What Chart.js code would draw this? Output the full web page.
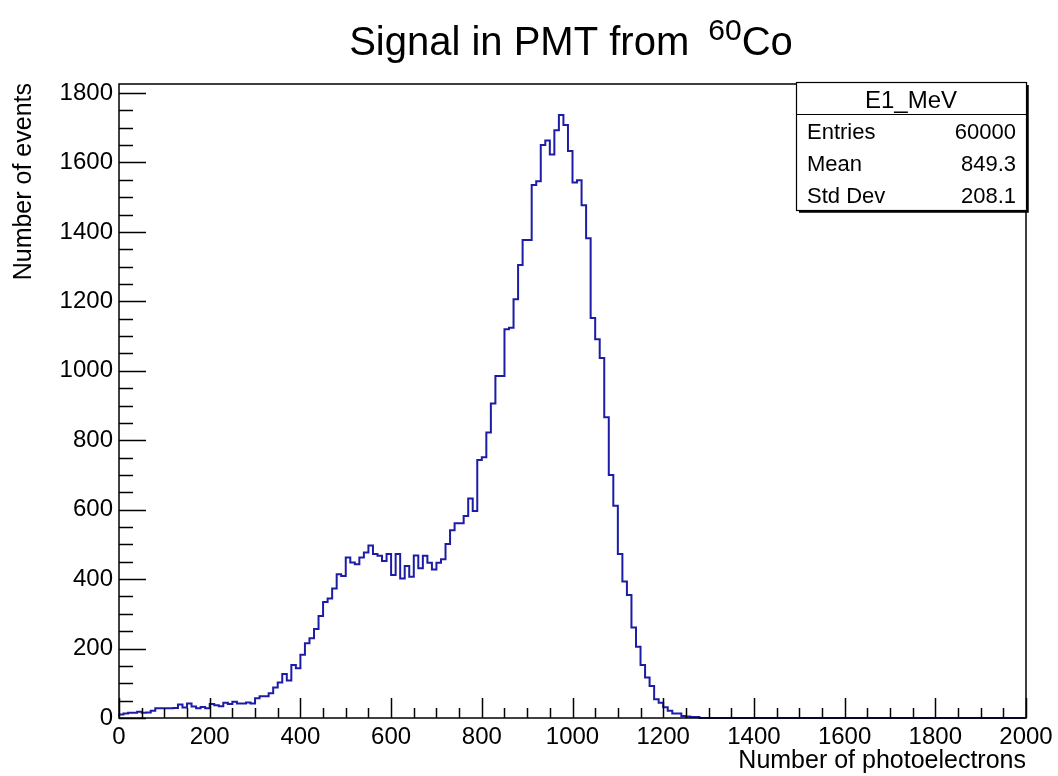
<!DOCTYPE html>
<html>
<head>
<meta charset="utf-8">
<title>Signal in PMT from 60Co</title>
<script src="https://cdn.jsdelivr.net/npm/chart.js@4/dist/chart.umd.min.js"></script>
<style>
  body { margin: 0; background: #fff; }
  #wrap { width: 1058px; height: 776px; }
</style>
</head>
<body>
<div id="wrap"><canvas id="hist" width="1058" height="776"></canvas></div>
<script>
// histogram E1_MeV, 10 photoelectrons per bin, bins from 0 upward (later bins empty)
const binWidth = 10;
const xRange = [0, 2000];
const yRange = [0, 1826];
const counts = [
  11, 10, 13, 15, 15, 18, 15, 16, 21, 28,
  28, 28, 28, 29, 39, 30, 42, 33, 28, 32,
  28, 40, 37, 34, 44, 40, 47, 42, 42, 45,
  42, 57, 63, 63, 71, 88, 102, 127, 108, 153,
  143, 182, 215, 230, 256, 294, 334, 344, 373, 414,
  409, 462, 448, 443, 462, 477, 497, 472, 467, 452,
  472, 412, 472, 402, 438, 407, 468, 431, 467, 447,
  428, 447, 457, 501, 541, 561, 561, 582, 632, 596,
  743, 751, 822, 906, 985, 985, 1120, 1124, 1206, 1305,
  1377, 1377, 1535, 1546, 1650, 1663, 1623, 1693, 1737, 1708,
  1633, 1542, 1549, 1477, 1382, 1152, 1091, 1037, 866, 700,
  611, 472, 393, 354, 261, 205, 153, 117, 92, 54,
  44, 31, 21, 13, 13, 6, 4, 3, 3, 0
];
const xTickLabels = ['0', '200', '400', '600', '800', '1000', '1200', '1400', '1600', '1800', '2000'];
const yTickLabels = ['0', '200', '400', '600', '800', '1000', '1200', '1400', '1600', '1800'];
const statNames = ['Entries', 'Mean', 'Std Dev'];
const statValues = ['60000', '849.3', '208.1'];

const FONT = '"Liberation Sans", Arial, Helvetica, sans-serif';

// step outline: one point per bin low edge, closed with the empty tail at zero
const points = counts.map((c, i) => ({ x: xRange[0] + i * binWidth, y: c }));
points.push({ x: xRange[1], y: 0 });

// ROOT style frame, inward ticks, titles and stats box
const rootFrame = {
  id: 'rootFrame',
  afterDraw(chart) {
    const ctx = chart.ctx;
    const a = chart.chartArea;
    const xs = chart.scales.x;
    const ys = chart.scales.y;
    ctx.save();
    ctx.strokeStyle = '#000';
    ctx.fillStyle = '#000';
    ctx.lineWidth = 1.5;
    ctx.strokeRect(a.left, a.top, a.right - a.left, a.bottom - a.top);

    // x ticks
    for (let v = xRange[0]; v <= xRange[1]; v += 50) {
      const px = Math.round(xs.getPixelForValue(v)) + 0.5;
      const len = v % 200 === 0 ? 20 : 10;
      ctx.beginPath();
      ctx.moveTo(px, a.bottom);
      ctx.lineTo(px, a.bottom - len);
      ctx.stroke();
    }
    // y ticks
    for (let v = 0; v <= 1800; v += 50) {
      const py = Math.round(ys.getPixelForValue(v)) + 0.5;
      const len = v % 200 === 0 ? 27 : 14;
      ctx.beginPath();
      ctx.moveTo(a.left, py);
      ctx.lineTo(a.left + len, py);
      ctx.stroke();
    }

    // tick labels
    ctx.font = '24px ' + FONT;
    ctx.textAlign = 'center';
    ctx.textBaseline = 'alphabetic';
    xTickLabels.forEach(t => {
      ctx.fillText(t, xs.getPixelForValue(Number(t)), a.bottom + 26);
    });
    ctx.textAlign = 'right';
    ctx.textBaseline = 'middle';
    yTickLabels.forEach(t => {
      ctx.fillText(t, a.left - 6, ys.getPixelForValue(Number(t)));
    });

    // axis titles
    ctx.font = '25px ' + FONT;
    ctx.textAlign = 'right';
    ctx.textBaseline = 'alphabetic';
    ctx.fillText('Number of photoelectrons', a.right, 768);
    ctx.save();
    ctx.translate(31, a.top - 1);
    ctx.rotate(-Math.PI / 2);
    ctx.fillText('Number of events', 0, 0);
    ctx.restore();

    // title with superscript
    const main = 'Signal in PMT from ';
    const sup = '60';
    const tail = 'Co';
    ctx.textAlign = 'left';
    ctx.font = '40px ' + FONT;
    const w1 = ctx.measureText(main).width;
    const w3 = ctx.measureText(tail).width;
    ctx.font = '30px ' + FONT;
    const w2 = ctx.measureText(sup).width;
    const gap = 8;
    const tx = 571 - (w1 + gap + w2 + w3) / 2;
    ctx.font = '40px ' + FONT;
    ctx.fillText(main, tx, 55);
    ctx.font = '30px ' + FONT;
    ctx.fillText(sup, tx + w1 + gap, 40);
    ctx.font = '40px ' + FONT;
    ctx.fillText(tail, tx + w1 + gap + w2, 55);

    // stats box
    const bx = 796, by = 82, bw = 230, bh = 128;
    ctx.fillStyle = '#fff';
    ctx.fillRect(bx, by, bw, bh);
    ctx.fillStyle = '#000';
    ctx.lineWidth = 1.2;
    ctx.strokeRect(bx + 0.5, by + 0.5, bw, bh);
    ctx.lineWidth = 2.5;
    ctx.beginPath();
    ctx.moveTo(bx + bw + 1.5, by + 3);
    ctx.lineTo(bx + bw + 1.5, by + bh + 1.5);
    ctx.lineTo(bx + 3, by + bh + 1.5);
    ctx.stroke();
    ctx.lineWidth = 1.2;
    ctx.beginPath();
    ctx.moveTo(bx, 114.5);
    ctx.lineTo(bx + bw, 114.5);
    ctx.stroke();

    ctx.font = '24px ' + FONT;
    ctx.textAlign = 'center';
    ctx.fillText('E1_MeV', bx + bw / 2, 108);
    ctx.font = '22px ' + FONT;
    const rows = [139, 171, 203];
    statNames.forEach((n, i) => {
      ctx.textAlign = 'left';
      ctx.fillText(n, 807, rows[i]);
      ctx.textAlign = 'right';
      ctx.fillText(statValues[i], 1016, rows[i]);
    });
    ctx.restore();
  }
};

new Chart(document.getElementById('hist'), {
  type: 'line',
  data: {
    datasets: [{
      label: 'E1_MeV',
      data: points,
      stepped: 'after',
      borderColor: '#1c1ca6',
      borderWidth: 2,
      pointRadius: 0,
      fill: false,
      clip: 4
    }]
  },
  options: {
    responsive: false,
    animation: false,
    layout: { padding: { left: 119, top: 84, right: 32, bottom: 58 } },
    plugins: {
      legend: { display: false },
      tooltip: { enabled: false },
      title: { display: false }
    },
    scales: {
      x: { type: 'linear', min: xRange[0], max: xRange[1], display: false },
      y: { type: 'linear', min: yRange[0], max: yRange[1], display: false }
    }
  },
  plugins: [rootFrame]
});
</script>
</body>
</html>
